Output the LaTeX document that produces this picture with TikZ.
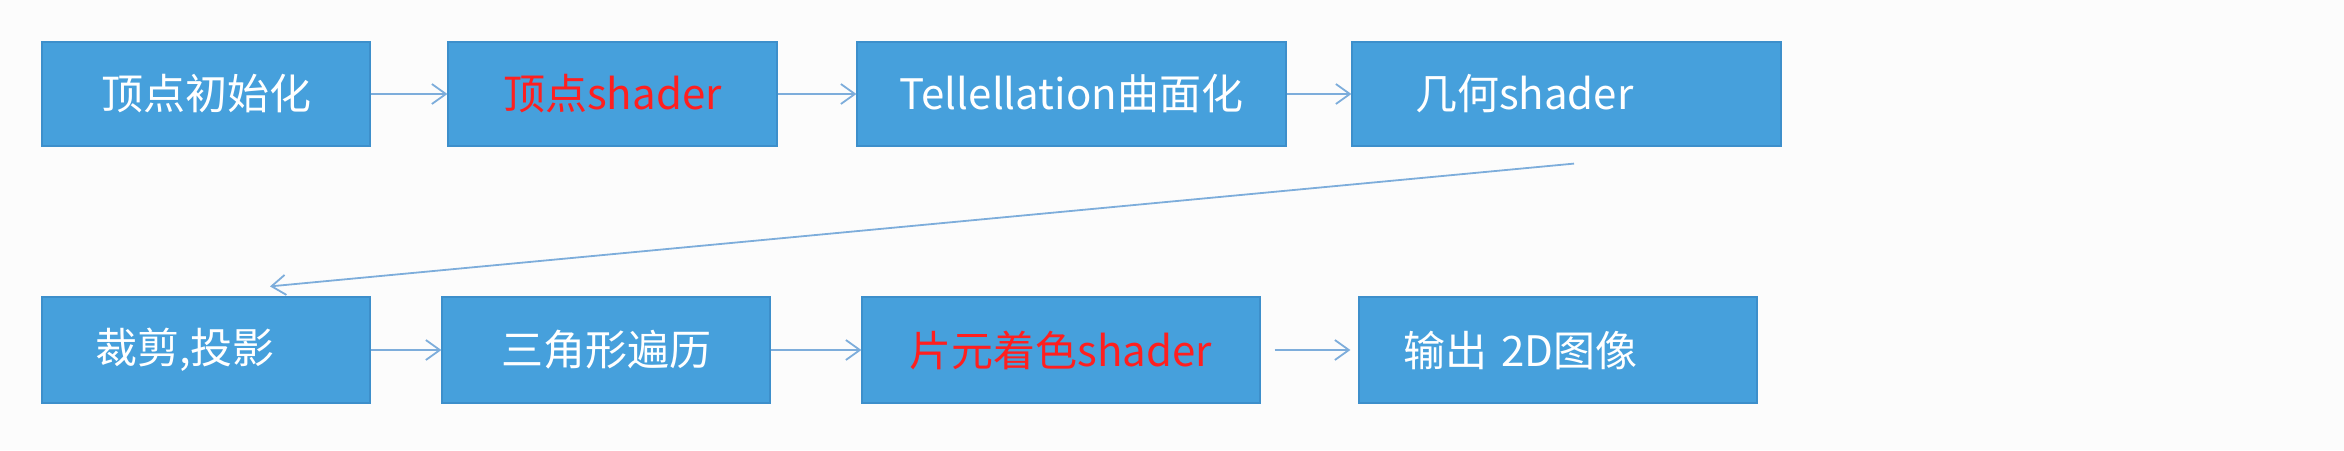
\documentclass[tikz,border=0pt]{standalone}
\usepackage{fontspec}
\newfontfamily\cjk{Noto Sans CJK SC}
\usetikzlibrary{arrows.meta}
\definecolor{boxblue}{HTML}{46A0DC}
\definecolor{boxedge}{HTML}{3D8FCB}
\definecolor{arrowblue}{HTML}{7DADDB}
\definecolor{stagered}{HTML}{FF1F1F}
\definecolor{paper}{HTML}{FCFCFC}

\begin{document}
\begin{tikzpicture}[x=0.5pt,y=-0.5pt,
  stage/.style={draw=boxedge,line width=0.6pt,fill=boxblue,text=white,
    font=\cjk\fontsize{21}{25}\selectfont,minimum height=52pt,inner sep=0pt},
  flow/.style={draw=arrowblue,line width=0.9pt,-{Straight Barb[length=7pt,width=10pt]}}]
% background
\fill[paper] (0,0) rectangle (2344,450);
\useasboundingbox (0,0) rectangle (2344,450);

% first row
\node[stage,minimum width=164pt] (vinit) at (206,94) {顶点初始化};
\node[stage,minimum width=164.5pt,text=stagered] (vshader) at (612.5,94) {顶点shader};
\node[stage,minimum width=214.5pt] (tess) at (1071.5,94) {Tellellation曲面化};
\node[stage,text width=151.5pt,inner xsep=31.5pt,align=left] (gshader) at (1566.5,94) {几何shader};

% second row
\node[stage,minimum height=53pt,text width=111pt,inner xsep=26.5pt,align=left] (clipproj) at (206,350) {裁剪,投影};
\node[stage,minimum height=53pt,minimum width=164pt] (tritrav) at (606,350) {三角形遍历};
\node[stage,minimum height=53pt,minimum width=199pt,text=stagered] (fshader) at (1061,350) {片元着色shader};
\node[stage,minimum height=53pt,text width=155pt,inner xsep=22pt,align=left] (output) at (1558,350) {输出 2D图像};

% arrows
\draw[flow] (vinit) -- (vshader);
\draw[flow] (vshader) -- (tess);
\draw[flow] (tess) -- (gshader);
\draw[flow] ([shift={(7.5,17)}]gshader.south) -- ([shift={(64,-10)}]clipproj.north);
\draw[flow] (clipproj) -- (tritrav);
\draw[flow] (tritrav) -- (fshader);
\draw[flow,shorten <=7pt,shorten >=4pt] (fshader) -- (output);

\end{tikzpicture}
\end{document}
